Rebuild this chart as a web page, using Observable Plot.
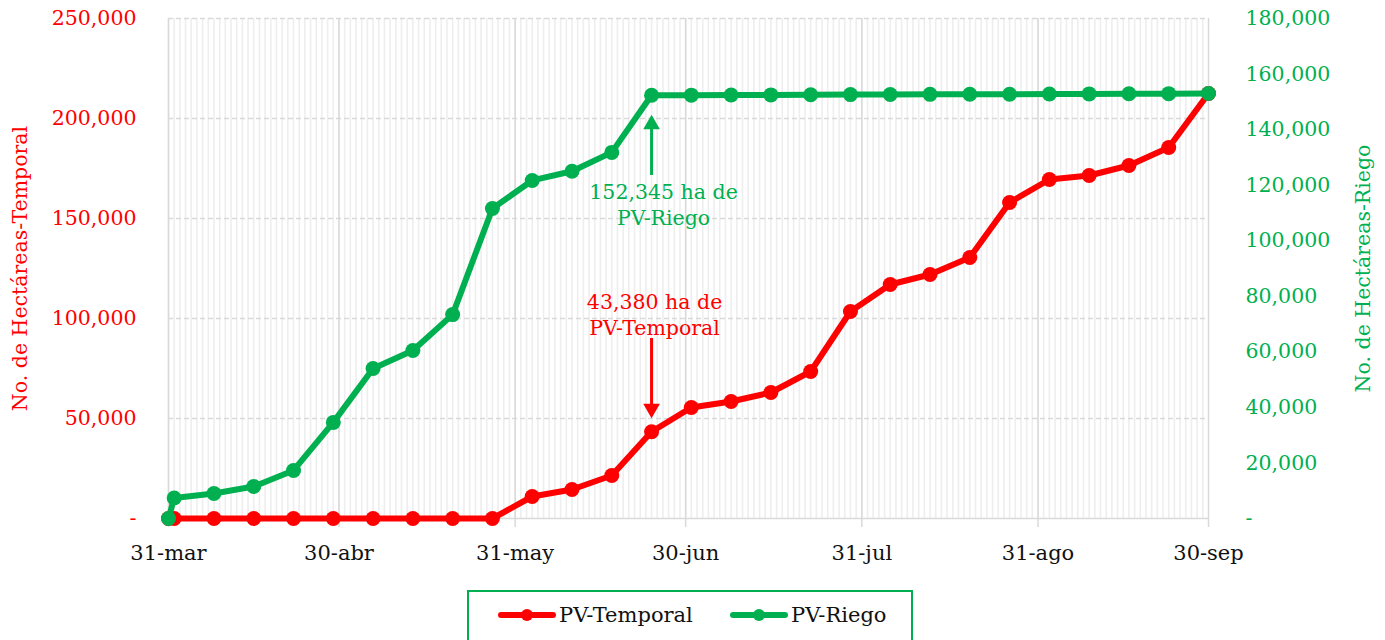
<!DOCTYPE html>
<html>
<head>
<meta charset="utf-8">
<script src="https://cdn.jsdelivr.net/npm/d3@7"></script>
<script src="https://cdn.jsdelivr.net/npm/@observablehq/plot@0.6"></script>
<style>
  body { margin: 0; background: #fff; font-family: "DejaVu Serif", serif; }
  #chart { position: absolute; left: 0; top: 0; }
  #legend { position: absolute; left: 467px; top: 590px; width: 446px; height: 60px;
            border: 2px solid #00b050; box-sizing: border-box; font-size: 21px; color: #111; }
  .item { position: absolute; top: 9px; display: flex; align-items: center; height: 28px; }
  .item svg { margin-right: 3px; }
</style>
</head>
<body>
<div id="chart"></div>
<div id="legend">
  <div class="item" style="left:29px"><svg width="58" height="14"><line x1="3" x2="55" y1="7" y2="7" stroke="#ff0000" stroke-width="6" stroke-linecap="round"/><circle cx="29" cy="7" r="6" fill="#ff0000"/></svg>PV-Temporal</div>
  <div class="item" style="left:261px"><svg width="58" height="14"><line x1="3" x2="55" y1="7" y2="7" stroke="#00b050" stroke-width="6" stroke-linecap="round"/><circle cx="29" cy="7" r="6" fill="#00b050"/></svg>PV-Riego</div>
</div>
<script>
// ---- data ----
const fechas = ["2023-03-31","2023-04-01","2023-04-08","2023-04-15","2023-04-22","2023-04-29",
  "2023-05-06","2023-05-13","2023-05-20","2023-05-27","2023-06-03","2023-06-10","2023-06-17",
  "2023-06-24","2023-07-01","2023-07-08","2023-07-15","2023-07-22","2023-07-29","2023-08-05",
  "2023-08-12","2023-08-19","2023-08-26","2023-09-02","2023-09-09","2023-09-16","2023-09-23","2023-09-30"];
const temporal = [0,0,0,0,0,0,0,0,0,0,11000,14500,21500,43380,55500,58500,63000,73500,103500,
  117000,122000,130500,158000,169500,171500,176500,185500,212500];
const riego = [0,7400,9000,11500,17300,34600,54000,60500,73400,111600,121700,125000,131800,152345,
  152400,152450,152500,152550,152600,152650,152700,152720,152750,152800,152850,152900,152950,153000];
const xTickDates = ["2023-03-31","2023-04-30","2023-05-31","2023-06-30","2023-07-31","2023-08-31","2023-09-30"];
const xTickLabels = ["31-mar","30-abr","31-may","30-jun","31-jul","31-ago","30-sep"];
const leftTicks = [0,50000,100000,150000,200000,250000];
const rightTicks = [0,20000,40000,60000,80000,100000,120000,140000,160000,180000];
const annotTexts = ["152,345 ha de\nPV-Riego", "43,380 ha de\nPV-Temporal"];
const annotDate = "2023-06-24";
const yLabels = ["No. de Hectáreas-Temporal", "No. de Hectáreas-Riego"];

// ---- build ----
const RED = "#ff0000", GREEN = "#00b050";
const k = 250000 / 180000;
const fmt = v => v === 0 ? "-" : d3.format(",")(Math.round(v));
const parse = d3.utcParse("%Y-%m-%d");
const xDates = fechas.map(parse);
const tempData = xDates.map((d, i) => ({date: d, v: temporal[i]}));
const riegoData = xDates.map((d, i) => ({date: d, v: riego[i] * k}));
const monthEnds = xTickDates.map(parse);
const labelOf = new Map(monthEnds.map((d, i) => [+d, xTickLabels[i]]));
const days = d3.utcDay.range(monthEnds[0], monthEnds[monthEnds.length - 1]);
const ad = parse(annotDate);

const chart = Plot.plot({
  width: 1385,
  height: 590,
  marginLeft: 168,
  marginRight: 177,
  marginTop: 18,
  marginBottom: 72,
  style: {fontFamily: "DejaVu Serif, serif", fontSize: "20px", background: "#fff"},
  x: {type: "utc", domain: [monthEnds[0], monthEnds[monthEnds.length - 1]]},
  y: {domain: [0, 250000]},
  marks: [
    Plot.ruleX(days, {x: d => d, stroke: "#eeeeee", strokeWidth: 1.6}),
    Plot.ruleY(leftTicks.slice(1), {y: d => d, stroke: "#d9d9d9", strokeWidth: 1.5, strokeDasharray: "5,3"}),
    Plot.ruleX(monthEnds, {x: d => d, stroke: "#d9d9d9", strokeWidth: 1.5}),
    Plot.ruleY([0], {stroke: "#d9d9d9", strokeWidth: 1.5}),
    Plot.axisX({ticks: monthEnds, tickFormat: d => labelOf.get(+d), tickSize: 9, tickPadding: 18,
      stroke: "#d9d9d9", strokeWidth: 1.5, fill: "#111", fontSize: 21}),
    Plot.axisY({ticks: leftTicks, tickFormat: fmt, tickSize: 0, tickPadding: 32, fill: RED, fontSize: 20.5, label: null}),
    Plot.axisY({anchor: "right", ticks: rightTicks.map(t => t * k), tickFormat: d => fmt(d / k),
      tickSize: 0, tickPadding: 37, fill: GREEN, fontSize: 20.5, label: null}),
    Plot.text([yLabels[0]], {frameAnchor: "left", textAnchor: "middle", dx: -148, rotate: -90, fill: RED, fontSize: 20.5}),
    Plot.text([yLabels[1]], {frameAnchor: "right", textAnchor: "middle", dx: 155, rotate: -90, fill: GREEN, fontSize: 20.5}),
    Plot.line(tempData, {x: "date", y: "v", stroke: RED, strokeWidth: 6}),
    Plot.dot(tempData, {x: "date", y: "v", r: 7.5, fill: RED}),
    Plot.line(riegoData, {x: "date", y: "v", stroke: GREEN, strokeWidth: 6}),
    Plot.dot(riegoData, {x: "date", y: "v", r: 7.5, fill: GREEN}),
    // annotation arrows (shaft + filled head)
    Plot.ruleX([ad], {x: d => d, y1: 171500, y2: 197000, stroke: GREEN, strokeWidth: 3}),
    Plot.dot([ad], {x: d => d, y: 197000, symbol: "triangle", r: 6.2, fill: GREEN}),
    Plot.ruleX([ad], {x: d => d, y1: 90000, y2: 55000, stroke: RED, strokeWidth: 3}),
    Plot.dot([ad], {x: d => d, y: 55000, symbol: "triangle", r: 6.2, fill: RED, rotate: 180}),
    Plot.text([annotTexts[0]], {x: () => ad, y: 157500, fill: GREEN, dx: 12, fontSize: 20.5, lineHeight: 1.27}),
    Plot.text([annotTexts[1]], {x: () => ad, y: 102500, fill: RED, dx: 3, fontSize: 20.5, lineHeight: 1.27})
  ]
});
document.getElementById("chart").appendChild(chart);
</script>
</body>
</html>
